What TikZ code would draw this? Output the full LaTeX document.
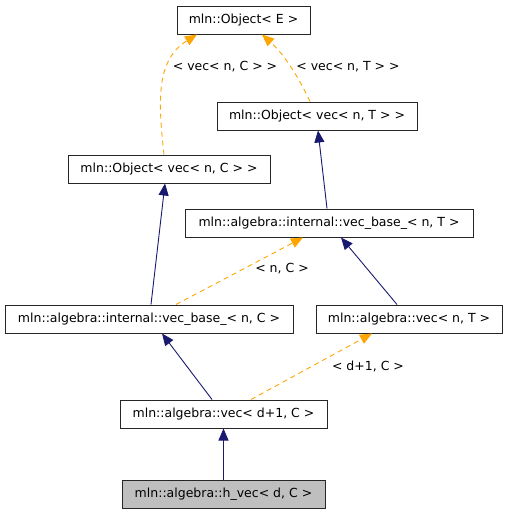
\documentclass[tikz,border=0pt]{standalone}
\usepackage{fontspec}
\setmainfont{DejaVu Sans}
\usetikzlibrary{arrows.meta}
\definecolor{navyedge}{RGB}{25,25,112}
\definecolor{orangeedge}{RGB}{255,165,0}
\begin{document}
\begin{tikzpicture}[x=1pt,y=-1pt, font=\fontsize{12.5}{14}\selectfont,
  cls/.style={draw=black!85, line width=1pt, fill=white, inner sep=0, minimum height=28pt},
  inh/.style={draw=navyedge, line width=0.9pt, -{Triangle[length=12pt,width=10pt]}},
  tmpl/.style={draw=orangeedge, line width=0.9pt, dash pattern=on 5pt off 4pt, -{Triangle[length=12pt,width=10pt]}},
  lbl/.style={inner sep=0}]
\useasboundingbox (0,0) rectangle (507,515);
\node[cls, minimum width=133pt] (oE) at (243.5,20) {mln::Object< E >};
\node[cls, minimum width=200pt] (oT) at (317,116) {mln::Object< vec< n, T > >};
\node[cls, minimum width=202pt] (oC) at (169,169) {mln::Object< vec< n, C > >};
\node[cls, minimum width=288pt] (vbT) at (329,223) {mln::algebra::internal::vec\_base\_< n, T >};
\node[cls, minimum width=288pt] (vbC) at (149,319) {mln::algebra::internal::vec\_base\_< n, C >};
\node[cls, minimum width=186pt] (vT) at (409,319) {mln::algebra::vec< n, T >};
\node[cls, minimum width=207pt] (vd) at (223.5,414) {mln::algebra::vec< d+1, C >};
\node[cls, minimum width=203pt, fill={rgb,255:red,191;green,191;blue,191}] (hv) at (223.5,494) {mln::algebra::h\_vec< d, C >};

\draw[inh] (hv.north) -- (vd.south);
\draw[inh] ([xshift=-11.5pt]vd.north) -- ([xshift=13pt]vbC.south);
\draw[tmpl] ([xshift=27.5pt]vd.north) -- ([xshift=-37pt]vT.south);
\node[lbl] (l1) at (368,366) {< d+1, C >};
\draw[inh] ([xshift=2pt]vbC.north) -- ([xshift=-4pt]oC.south);
\draw[tmpl] ([xshift=27pt]vbC.north) -- ([xshift=-26pt]vbT.south);
\node[lbl] (l2) at (282,269) {< n, C >};
\draw[inh] ([xshift=-12pt]vT.north) -- ([xshift=12pt]vbT.south);
\draw[inh] ([xshift=-2pt]vbT.north) -- ([xshift=1pt]oT.south);
\draw[tmpl] ([xshift=-7pt]oT.north) .. controls (300,80) and (285,55) .. ([xshift=18.5pt]oE.south);
\node[lbl] (l3) at (348,67) {< vec< n, T > >};
\draw[tmpl] ([xshift=-5pt]oC.north) .. controls (158,100) and (156,60) .. ([xshift=-46.5pt]oE.south);
\node[lbl] (l4) at (225,67) {< vec< n, C > >};
\end{tikzpicture}
\end{document}
